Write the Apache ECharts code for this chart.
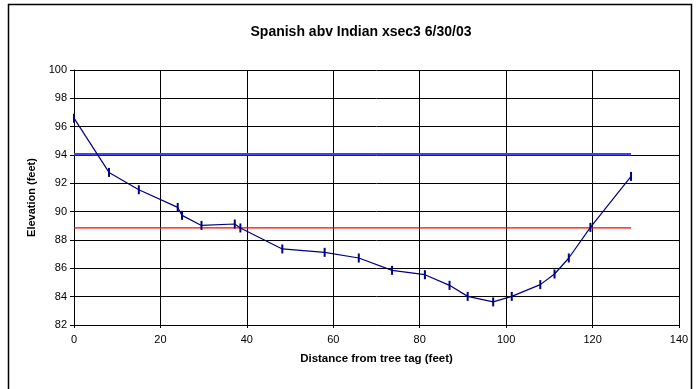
<!DOCTYPE html>
<html>
<head>
<meta charset="utf-8">
<script src="https://cdn.jsdelivr.net/npm/echarts@6/dist/echarts.min.js"></script>
<style>html,body{margin:0;padding:0;background:#fff}#c{width:699px;height:389px}</style>
</head>
<body>
<div id="c"></div>
<script>
var distance = [0, 8.1, 15.0, 24.0, 25.0, 29.5, 37.2, 38.5, 48.2, 58.0, 65.9, 73.6, 81.2, 86.9, 91.1, 97.0, 101.3, 107.9, 111.2, 114.5, 119.5, 128.9];
var elevation = [96.6, 92.77, 91.55, 90.3, 89.74, 89.03, 89.13, 88.85, 87.37, 87.13, 86.73, 85.86, 85.55, 84.8, 84.02, 83.63, 84.02, 84.85, 85.6, 86.73, 88.89, 92.49];
var blueLineX = [0, 128.9];
var blueLineY = [94.05, 94.05];
var redLineX = [0, 128.9];
var redLineY = [88.85, 88.85];
var title = 'Spanish abv Indian xsec3 6/30/03';
var xName = 'Distance from tree tag (feet)';
var yName = 'Elevation (feet)';

function pairs(xs, ys) { return xs.map(function (x, i) { return [x, ys[i]]; }); }

var chart = echarts.init(document.getElementById('c'), null, {renderer: 'canvas'});
var font = 'Liberation Sans, Arial, sans-serif';
chart.setOption({
  animation: false,
  backgroundColor: '#fff',
  title: {
    text: title, left: 356, top: 20, textAlign: 'center',
    textStyle: {fontFamily: font, fontSize: 14, fontWeight: 'bold', color: '#000'}
  },
  graphic: [{
    type: 'rect', shape: {x: 8.5, y: 4.5, width: 683, height: 390},
    style: {fill: 'none', stroke: '#000', lineWidth: 1.5}, silent: true, z: 0
  }],
  grid: {left: 74, right: 20, top: 70, bottom: 64},
  xAxis: {
    type: 'value', min: 0, max: 140, interval: 20,
    name: xName, nameLocation: 'middle', nameGap: 28,
    nameTextStyle: {fontFamily: font, fontSize: 11.5, fontWeight: 'bold', color: '#000'},
    axisLine: {show: true, lineStyle: {color: '#000', width: 1}},
    axisTick: {show: true, inside: false, length: 3, lineStyle: {color: '#000'}},
    axisLabel: {fontFamily: font, fontSize: 11, color: '#000', margin: 9},
    splitLine: {show: true, lineStyle: {color: '#000', width: 1}}
  },
  yAxis: {
    type: 'value', min: 82, max: 100, interval: 2,
    name: yName, nameLocation: 'middle', nameGap: 32, nameRotate: 90,
    nameTextStyle: {fontFamily: font, fontSize: 11, fontWeight: 'bold', color: '#000'},
    axisLine: {show: true, lineStyle: {color: '#000', width: 1}},
    axisTick: {show: true, inside: false, length: 4, lineStyle: {color: '#000'}},
    axisLabel: {fontFamily: font, fontSize: 11, color: '#000', margin: 7},
    splitLine: {show: true, lineStyle: {color: '#000', width: 1}}
  },
  series: [
    {
      type: 'line', data: pairs(blueLineX, blueLineY), symbol: 'none',
      lineStyle: {color: '#4040ff', width: 2.5}, z: 3
    },
    {
      type: 'line', data: pairs(redLineX, redLineY), symbol: 'none',
      lineStyle: {color: '#ff0000', width: 1.2}, z: 3
    },
    {
      type: 'line', data: pairs(distance, elevation),
      symbol: 'rect', symbolSize: [2, 9],
      itemStyle: {color: '#000080'},
      lineStyle: {color: '#000080', width: 1.2}, z: 4
    }
  ]
});
</script>
</body>
</html>
